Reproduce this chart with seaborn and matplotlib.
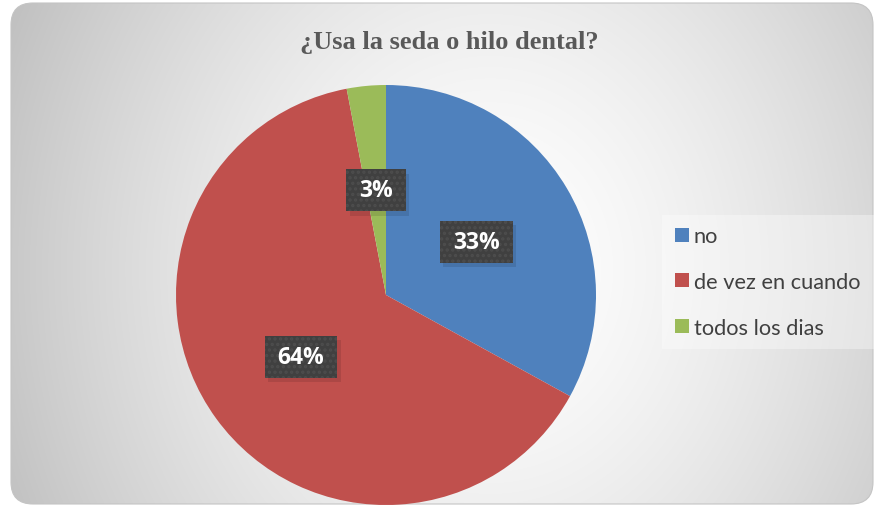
import numpy as np
import matplotlib
matplotlib.use("Agg")
import matplotlib.pyplot as plt
import matplotlib.patheffects as pe
from matplotlib.patches import FancyBboxPatch, Rectangle, Patch
import seaborn as sns

# Survey answers
title = "¿Usa la seda o hilo dental?"
categories = ["no", "de vez en cuando", "todos los dias"]
percentages = [33, 64, 3]

sns.set_theme(style="white")
colors = ["#4F81BD", "#C0504D", "#9BBB59"]
palette = sns.color_palette(colors)

W, H, DPI = 878, 506, 100
fig = plt.figure(figsize=(W / DPI, H / DPI), dpi=DPI)
fig.patch.set_facecolor("white")
plt.rcParams["hatch.linewidth"] = 1.6

# Background: rounded panel with a soft radial gray gradient
bg = fig.add_axes([0, 0, 1, 1], zorder=0)
bg.set_xlim(0, W)
bg.set_ylim(H, 0)
bg.axis("off")
xx, yy = np.meshgrid(np.arange(W), np.arange(H))
d = np.sqrt(((xx - 490) / 520.0) ** 2 + ((yy - 270) / 600.0) ** 2)
v = 1 - 0.24 * np.clip(d, 0, 1.05) ** 1.5
img = np.dstack([v, v, v])
panel = FancyBboxPatch((11, 4), 862, 501, boxstyle="round,pad=0,rounding_size=22",
                       fc="none", ec="#c4c4c4", lw=0.8, transform=bg.transData)
bg.add_patch(panel)
im = bg.imshow(img, extent=(0, W, H, 0), interpolation="bilinear")
im.set_clip_path(panel)

# Pie chart
cx, cy, r = 386, 296, 210
ax = fig.add_axes([(cx - r) / W, (H - cy - r) / H, 2 * r / W, 2 * r / H], zorder=1)
wedges, texts, autotexts = ax.pie(
    percentages, colors=palette, startangle=90, counterclock=False,
    autopct="%1.0f%%", pctdistance=0.5,
    wedgeprops=dict(linewidth=0),
    textprops=dict(color="white", fontsize=16.5, fontweight="bold", family="Open Sans"),
)
ax.set_xlim(-1, 1)
ax.set_ylim(-1, 1)
ax.set_aspect("equal")
ax.axis("off")
for w in wedges:
    w.set_clip_on(False)

# Dark label boxes behind the percentages
fig.canvas.draw()
renderer = fig.canvas.get_renderer()
for t in autotexts:
    bb = t.get_window_extent(renderer)
    mx, my = (bb.x0 + bb.x1) / 2, (bb.y0 + bb.y1) / 2
    bw, bh = bb.width + 26, 42
    shadow = Rectangle(((mx - bw / 2 + 2) / W, (my - bh / 2 - 3) / H), bw / W, bh / H,
                       transform=fig.transFigure, fc="black", alpha=0.16, ec="none", zorder=2.5)
    shadow.set_path_effects([pe.SimplePatchShadow(offset=(1, -1), shadow_rgbFace="black", alpha=0.1)])
    fig.add_artist(shadow)
    rect = Rectangle(((mx - bw / 2) / W, (my - bh / 2) / H), bw / W, bh / H,
                     transform=fig.transFigure, fc="#404040", ec="#4d4d4d",
                     lw=0, hatch="...", zorder=3)
    fig.add_artist(rect)
    text = t.get_text()
    t.remove()
    fig.text(mx / W, my / H, text, ha="center", va="center", color="white",
             fontsize=16.5, fontweight="bold", family="Open Sans", zorder=6)

# Title
fig.text(449 / W, 1 - 43 / H, title, ha="center", va="center", fontsize=19,
         fontweight="bold", family="Liberation Serif", color="#595959")

# Legend box and entries
fig.add_artist(Rectangle((662 / W, 1 - 350 / H), 213 / W, 134 / H, transform=fig.transFigure,
                         fc="white", alpha=0.35, ec="none", zorder=2))
handles = [Patch(facecolor=c, edgecolor="none") for c in palette]
leg = fig.legend(handles, categories, loc="center left", bbox_to_anchor=(675 / W, 1 - 283 / H),
                 frameon=False, borderpad=0, borderaxespad=0, handlelength=0.62,
                 handleheight=0.62, handletextpad=0.24, labelspacing=1.17,
                 prop=dict(family="Lato", size=15.7))
for txt in leg.get_texts():
    txt.set_color("#404040")
leg.set_zorder(4)

fig.savefig("out.png", dpi=DPI)
